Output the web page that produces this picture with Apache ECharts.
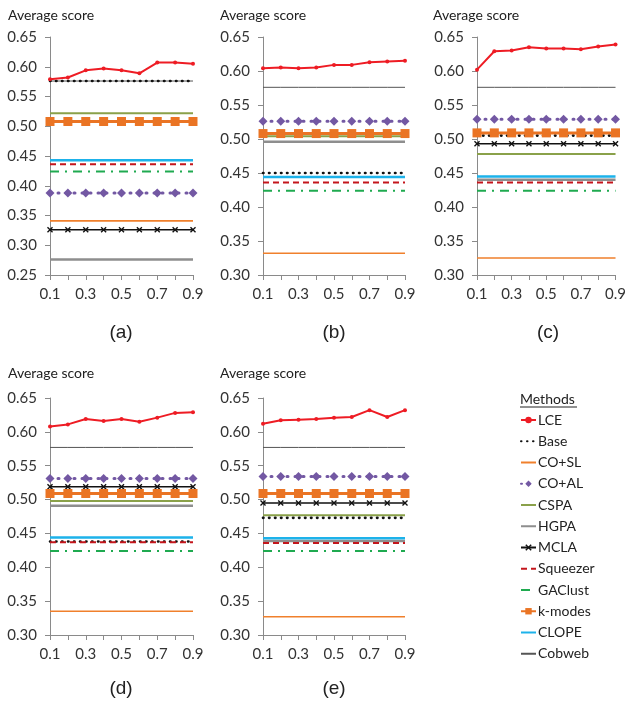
<!DOCTYPE html>
<html><head><meta charset="utf-8">
<script src="https://cdn.jsdelivr.net/npm/echarts@6/dist/echarts.min.js"></script>
<style>html,body{margin:0;padding:0;background:#fff}#c{width:629px;height:701px}</style>
</head><body><div id="c"></div>
<script>
// ---- data ----
const categories = ['0.1','0.2','0.3','0.4','0.5','0.6','0.7','0.8','0.9'];
const methods = ['LCE','Base','CO+SL','CO+AL','CSPA','HGPA','MCLA','Squeezer','GAClust','k-modes','CLOPE','Cobweb'];
const panelLabels = ['(a)','(b)','(c)','(d)','(e)'];
const yMins = [0.25, 0.30, 0.30, 0.30, 0.30];
const yMax = 0.65;
// LCE values per panel
const lceA = [0.579,0.582,0.594,0.597,0.594,0.589,0.607,0.607,0.605];
const lceB = [0.604,0.605,0.604,0.605,0.609,0.609,0.613,0.614,0.615];
const lceC = [0.602,0.629,0.630,0.635,0.633,0.633,0.632,0.636,0.639];
const lceD = [0.608,0.611,0.619,0.616,0.619,0.615,0.621,0.628,0.629];
const lceE = [0.612,0.617,0.618,0.619,0.621,0.622,0.632,0.622,0.632];
// constant methods per panel: Base, CO+SL, CO+AL, CSPA, HGPA, MCLA, Squeezer, GAClust, k-modes, CLOPE, Cobweb
const constA = [0.576,0.341,0.388,0.522,0.276,0.326,0.436,0.424,0.508,0.443,0.576];
const constB = [0.450,0.332,0.526,0.504,0.496,0.508,0.436,0.424,0.508,0.444,0.576];
const constC = [0.505,0.325,0.529,0.478,0.440,0.493,0.436,0.424,0.509,0.445,0.576];
const constD = [0.438,0.335,0.531,0.498,0.491,0.519,0.437,0.424,0.509,0.444,0.577];
const constE = [0.473,0.327,0.534,0.477,0.439,0.495,0.436,0.424,0.509,0.443,0.577];

const lceAll = [lceA,lceB,lceC,lceD,lceE];
const constAll = [constA,constB,constC,constD,constE];

// ---- styles ----
const xPath = 'path://M0,1.6L1.6,0L5,3.4L8.4,0L10,1.6L6.6,5L10,8.4L8.4,10L5,6.6L1.6,10L0,8.4L3.4,5Z';
const styles = {
  'LCE':     {color:'#ee1c24', width:2,   type:'solid', symbol:'circle', size:4, z:20},
  'Base':    {color:'#111111', width:2.6, type:[0.5,5.5], cap:'round', symbol:'none', z:5},
  'CO+SL':   {color:'#f0802c', width:1.6, type:'solid', symbol:'none', z:3},
  'CO+AL':   {color:'#7358a3', width:3,   type:[1,7], cap:'round', symbol:'diamond', size:9, z:6},
  'CSPA':    {color:'#8aa14a', width:2,   type:'solid', symbol:'none', z:3},
  'HGPA':    {color:'#8e8e8e', width:2.5, type:'solid', symbol:'none', z:2},
  'MCLA':    {color:'#111111', width:1.6, type:'solid', symbol:xPath, size:6, z:6},
  'Squeezer':{color:'#c4161c', width:2,   type:[6,4], symbol:'none', z:7},
  'GAClust': {color:'#1faa50', width:2,   type:[9,6,2,6], symbol:'none', z:4},
  'k-modes': {color:'#ea7424', width:3,   type:'solid', symbol:'rect', size:9, z:8},
  'CLOPE':   {color:'#1db2ea', width:2.5, type:'solid', symbol:'none', z:4},
  'Cobweb':  {color:'#555555', width:1,   type:'solid', symbol:'none', z:1}
};

const grids = [
  {left:50, top:37, width:143, height:238},
  {left:263, top:37, width:142, height:238},
  {left:477, top:37, width:142, height:238},
  {left:50, top:398, width:143, height:237},
  {left:263, top:398, width:142, height:237}
];
const titlePos = [[8,8],[220,8],[433,8],[8,366],[220,366]];
const labelPos = [[121,323],[334,323],[548,323],[121,679],[334,679]];

const FONT = 'Lato';
const xAxes = [], yAxes = [], series = [], titles = [];
grids.forEach((g,i)=>{
  xAxes.push({type:'category', gridIndex:i, data:categories, boundaryGap:false,
    axisLine:{lineStyle:{color:'#8a8a8a', width:1}},
    axisTick:{show:true, interval:0, length:5, lineStyle:{color:'#8a8a8a'}},
    axisLabel:{interval:1, color:'#333', fontSize:15, fontFamily:FONT, margin:12},
    splitLine:{show:false}});
  yAxes.push({type:'value', gridIndex:i, min:yMins[i], max:yMax, interval:0.05,
    axisLine:{show:true, lineStyle:{color:'#8a8a8a', width:1}},
    axisTick:{show:true, length:5, lineStyle:{color:'#8a8a8a'}},
    axisLabel:{color:'#333', fontSize:15, fontFamily:FONT, margin:13, formatter:v=>v.toFixed(2)},
    splitLine:{show:false}});
  titles.push({text:'Average score', left:titlePos[i][0], top:titlePos[i][1], padding:0,
    textStyle:{fontSize:14, fontWeight:'normal', color:'#222', fontFamily:FONT}});
  titles.push({text:panelLabels[i], left:labelPos[i][0], top:labelPos[i][1], textAlign:'center', padding:0,
    textStyle:{fontSize:19, fontWeight:'normal', color:'#222', fontFamily:'Liberation Sans'}});
  methods.forEach((m,k)=>{
    const s = styles[m];
    const data = (m==='LCE') ? lceAll[i] : categories.map(()=>constAll[i][k-1]);
    series.push({name:m, type:'line', xAxisIndex:i, yAxisIndex:i, data:data,
      z: s.z, symbol:s.symbol, symbolSize:s.size||0, showSymbol:s.symbol!=='none',
      lineStyle:{color:s.color, width:s.width, type:s.type, cap:s.cap||'butt'},
      itemStyle:{color:s.color}, animation:false, silent:true});
  });
});
titles.push({text:'Methods', left:520, top:392, padding:0,
  textStyle:{fontSize:14, fontWeight:'normal', color:'#222', fontFamily:FONT}});

const legendData = methods.map(m => {
  const s = styles[m];
  if (s.symbol === 'none') return {name:m, itemStyle:{opacity:0, borderWidth:0}};
  return {name:m};
});

const chart = echarts.init(document.getElementById('c'), null, {renderer:'canvas'});
chart.setOption({
  animation:false,
  title:titles,
  grid:grids,
  xAxis:xAxes,
  yAxis:yAxes,
  legend:{data:legendData, orient:'vertical', left:520, top:413, itemWidth:15, itemHeight:8,
    itemGap:7.25, padding:0, selectedMode:false,
    textStyle:{fontSize:14, color:'#222', fontFamily:FONT, lineHeight:14, padding:[0,0,0,-3]}},
  graphic:[{type:'line', shape:{x1:520, y1:407, x2:577, y2:407}, style:{stroke:'#222', lineWidth:1}}],
  series:series
});
</script>
</body></html>
